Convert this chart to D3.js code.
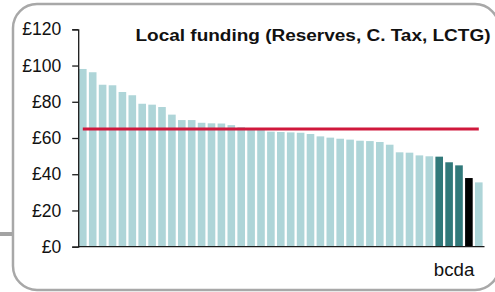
<!DOCTYPE html>
<html>
<head>
<meta charset="utf-8">
<script src="https://cdn.jsdelivr.net/npm/d3@7"></script>
<style>
	body { margin: 0; background: #fff; }
	svg { display: block; }
	text { font-family: Arial, "Liberation Sans", sans-serif; fill: #111; }
</style>
</head>
<body>
<svg id="chart" width="495" height="292"></svg>
<script>
// per-head local funding, sorted high to low
var values = [98.1, 96.3, 89.4, 89.1, 85.4, 83.6, 78.9, 78.4, 77.1, 72.9,
	69.9, 69.9, 68.4, 68.1, 68.0, 67.1, 66.0, 64.8, 64.5, 63.5,
	63.3, 63.1, 62.9, 62.2, 60.9, 60.2, 59.6, 59.1, 58.5, 58.3,
	57.8, 56.3, 52.1, 51.9, 50.4, 49.9, 49.7, 46.6, 44.9, 37.9, 35.5];
var groupIdx = [36, 37, 38];   // dark teal bars
var selfIdx = [39];            // black bar
var groupLabel = "bcda";
var average = 65;
var yTicks = [0, 20, 40, 60, 80, 100, 120];
var title = "Local funding (Reserves, C. Tax, LCTG)";

var svg = d3.select("#chart");

// rounded panel + connector stub
svg.append("line")
	.attr("x1", 0).attr("x2", 14).attr("y1", 234).attr("y2", 234)
	.attr("stroke", "#a3a3a3").attr("stroke-width", 4);
svg.append("rect")
	.attr("x", 13).attr("y", 4).attr("width", 486).attr("height", 286)
	.attr("rx", 24).attr("ry", 24)
	.attr("fill", "#fff").attr("stroke", "#a8a8a8").attr("stroke-width", 2.5);

var x = d3.scaleBand()
	.domain(d3.range(values.length))
	.range([79, 482.6])
	.paddingInner(0.232)
	.paddingOuter(0);

var y = d3.scaleLinear().domain([0, 120]).range([246.7, 29.3]);

function barColour(i) {
	if (selfIdx.indexOf(i) >= 0) return "#000";
	if (groupIdx.indexOf(i) >= 0) return "#31797a";
	return "#aed5d8";
}

svg.append("g").selectAll("rect")
	.data(values)
	.enter().append("rect")
	.attr("x", function (d, i) { return x(i); })
	.attr("y", function (d) { return y(d); })
	.attr("width", x.bandwidth())
	.attr("height", function (d) { return y(0) - y(d); })
	.attr("fill", function (d, i) { return barColour(i); });

// average line
svg.append("line")
	.attr("x1", x(0) + x.bandwidth() / 2)
	.attr("x2", x(values.length - 1) + x.bandwidth() / 2)
	.attr("y1", y(average)).attr("y2", y(average))
	.attr("stroke", "#d0183c").attr("stroke-width", 3);

// y axis
var yAxis = svg.append("g")
	.attr("transform", "translate(78.2,0)")
	.call(d3.axisLeft(y).tickValues(yTicks).tickSize(6).tickSizeOuter(6).tickPadding(11)
		.tickFormat(function (d) { return "£" + d; }));
yAxis.selectAll("path, line").attr("stroke", "#1a1a1a").attr("stroke-width", 1.3);
yAxis.selectAll("text")
	.attr("font-size", "17.5px")
	.attr("font-family", "Arial, 'Liberation Sans', sans-serif")
	.attr("fill", "#111");

// x axis baseline
svg.append("line")
	.attr("x1", 78.2).attr("x2", 484.5)
	.attr("y1", y(0)).attr("y2", y(0))
	.attr("stroke", "#1a1a1a").attr("stroke-width", 1.3);

// label under the highlighted group
var gx0 = x(groupIdx[0]);
var gx1 = x(selfIdx[0]) + x.bandwidth();
svg.append("text")
	.attr("x", (gx0 + gx1) / 2)
	.attr("y", 275.5)
	.attr("text-anchor", "middle")
	.attr("font-size", "17.5px")
	.attr("textLength", 40.5)
	.attr("lengthAdjust", "spacingAndGlyphs")
	.text(groupLabel);

svg.append("text")
	.attr("x", 135.5)
	.attr("y", 40.5)
	.attr("font-size", "16px")
	.attr("font-weight", "bold")
	.attr("textLength", 355)
	.attr("lengthAdjust", "spacingAndGlyphs")
	.text(title);
</script>
</body>
</html>
